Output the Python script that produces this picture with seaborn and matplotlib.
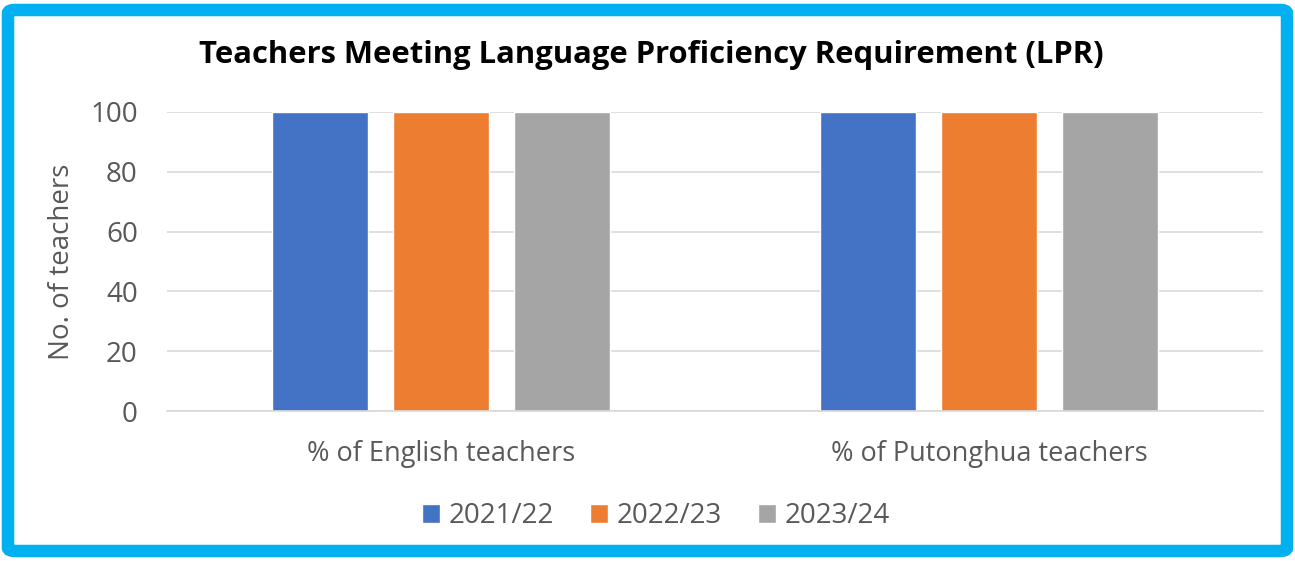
import matplotlib
matplotlib.use("Agg")
import matplotlib.pyplot as plt
from matplotlib.patches import FancyBboxPatch
import seaborn as sns
import pandas as pd

categories = ["% of English teachers", "% of Putonghua teachers"]
years = ["2021/22", "2022/23", "2023/24"]
values_2021 = [100, 100]
values_2022 = [100, 100]
values_2023 = [100, 100]
yticks = [0, 20, 40, 60, 80, 100]
colors = ["#4472C4", "#ED7D31", "#A5A5A5"]

rows = []
for yr, vals in zip(years, [values_2021, values_2022, values_2023]):
    for c, v in zip(categories, vals):
        rows.append({"category": c, "year": yr, "value": v})
df = pd.DataFrame(rows)

sns.set_theme(style="white")
plt.rcParams["font.family"] = ["Open Sans", "DejaVu Sans"]

fig = plt.figure(figsize=(12.95, 5.61), dpi=100)
ax = fig.add_axes([167/1295, 1-411/561, (1263-167)/1295, (411-112)/561])

sns.barplot(data=df, x="category", y="value", hue="year", palette=colors,
            width=0.665, gap=0.21, ax=ax, saturation=1, legend=True)

ax.set_ylim(0, 100)
ax.set_yticks(yticks)
ax.set_xlim(-0.5, 1.5)
ax.yaxis.grid(True, color="#D9D9D9", linewidth=1.2)
ax.set_axisbelow(True)
for s in ["top", "right", "left"]:
    ax.spines[s].set_visible(False)
ax.spines["bottom"].set_color("#D9D9D9")
ax.spines["bottom"].set_linewidth(1.2)
ax.tick_params(axis="y", labelsize=20, labelcolor="#595959", length=0, pad=21)
ax.tick_params(axis="x", labelsize=19.5, labelcolor="#595959", length=0, pad=21)
ax.set_xlabel("")
ax.set_ylabel("No. of teachers", fontsize=20, color="#595959", labelpad=10)

fig.text(651/1295, 1-55/561, "Teachers Meeting Language Proficiency Requirement (LPR)",
         ha="center", va="center", fontsize=22.3, fontweight="bold", color="black")

handles, labels = ax.get_legend_handles_labels()
ax.legend_.remove()
leg = fig.legend(handles, labels, loc="center", bbox_to_anchor=(656/1295, 1-516/561),
                 ncol=3, frameon=False, fontsize=20, handlelength=0.65, handleheight=0.65,
                 handletextpad=0.3, columnspacing=1.3)
for t in leg.get_texts():
    t.set_color("#595959")

border = FancyBboxPatch((8/1295, 10/561), 1-16/1295, 1-20/561,
                        boxstyle="round,pad=0,rounding_size=0.006",
                        transform=fig.transFigure, fill=False,
                        edgecolor="#00B0F0", linewidth=9, zorder=10)
fig.patches.append(border)

fig.savefig("out.png", dpi=100)
